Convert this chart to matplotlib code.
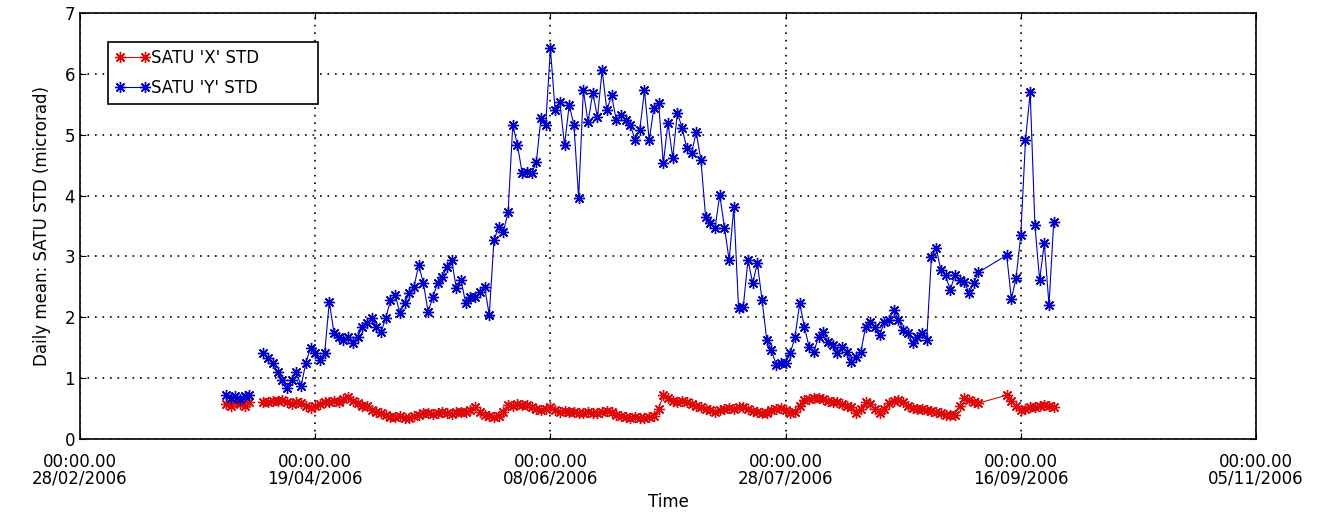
import numpy as np
import matplotlib
matplotlib.use('Agg')
import matplotlib.pyplot as plt
import matplotlib.dates as mdates

start = np.datetime64('2006-02-28')

# first short run (31/03 - 05/04), then a gap
days_a = list(range(31, 37))
x_a = [0.58, 0.55, 0.60, 0.57, 0.55, 0.60]
y_a = [0.72, 0.68, 0.70, 0.66, 0.70, 0.73]

# main run, daily
days_b = list(range(39, 192))
y_b = [1.41, 1.33, 1.25, 1.10, 0.97, 0.84, 0.97, 1.10, 0.87, 1.25,
       1.50, 1.41, 1.30, 1.41, 2.25, 1.74, 1.68, 1.63, 1.68, 1.58,
       1.68, 1.84, 1.90, 1.99, 1.84, 1.76, 1.99, 2.28, 2.37, 2.07,
       2.23, 2.40, 2.50, 2.86, 2.56, 2.09, 2.33, 2.56, 2.66, 2.83,
       2.94, 2.48, 2.61, 2.23, 2.33, 2.33, 2.42, 2.50, 2.04, 3.27,
       3.48, 3.40, 3.73, 5.16, 4.83, 4.37, 4.39, 4.37, 4.55, 5.27,
       5.16, 6.42, 5.40, 5.54, 4.83, 5.49, 5.16, 3.96, 5.73, 5.21,
       5.69, 5.29, 6.06, 5.40, 5.65, 5.24, 5.32, 5.24, 5.16, 4.91,
       5.08, 5.73, 4.91, 5.44, 5.52, 4.53, 5.19, 4.62, 5.36, 5.11,
       4.78, 4.70, 5.04, 4.58, 3.65, 3.55, 3.47, 4.01, 3.47, 2.94,
       3.81, 2.15, 2.17, 2.94, 2.56, 2.89, 2.28, 1.63, 1.46, 1.22,
       1.25, 1.25, 1.41, 1.68, 2.23, 1.84, 1.51, 1.43, 1.68, 1.76,
       1.60, 1.54, 1.41, 1.51, 1.43, 1.27, 1.35, 1.43, 1.84, 1.92,
       1.84, 1.71, 1.92, 1.96, 2.12, 1.96, 1.79, 1.74, 1.58, 1.68,
       1.74, 1.63, 2.99, 3.14, 2.78, 2.69, 2.45, 2.69, 2.61, 2.58,
       2.40, 2.56, 2.74]
x_b = [0.60, 0.61, 0.62, 0.63, 0.64, 0.60, 0.58, 0.60, 0.59, 0.55,
       0.51, 0.55, 0.58, 0.61, 0.60, 0.62, 0.60, 0.65, 0.69, 0.62,
       0.59, 0.55, 0.55, 0.48, 0.45, 0.43, 0.40, 0.36, 0.36, 0.37,
       0.34, 0.34, 0.37, 0.40, 0.42, 0.43, 0.41, 0.43, 0.44, 0.43,
       0.41, 0.44, 0.45, 0.45, 0.48, 0.53, 0.45, 0.39, 0.38, 0.36,
       0.37, 0.45, 0.56, 0.55, 0.57, 0.56, 0.56, 0.52, 0.50, 0.48,
       0.50, 0.52, 0.48, 0.45, 0.46, 0.45, 0.44, 0.42, 0.43, 0.45,
       0.43, 0.42, 0.45, 0.46, 0.44, 0.40, 0.38, 0.36, 0.35, 0.36,
       0.34, 0.35, 0.36, 0.38, 0.50, 0.72, 0.68, 0.62, 0.60, 0.62,
       0.60, 0.58, 0.55, 0.53, 0.50, 0.47, 0.45, 0.47, 0.50, 0.51,
       0.50, 0.52, 0.53, 0.50, 0.46, 0.44, 0.42, 0.43, 0.47, 0.50,
       0.51, 0.47, 0.43, 0.45, 0.55, 0.64, 0.66, 0.67, 0.67, 0.65,
       0.63, 0.61, 0.60, 0.58, 0.55, 0.53, 0.43, 0.50, 0.61, 0.58,
       0.50, 0.43, 0.50, 0.59, 0.62, 0.64, 0.60, 0.55, 0.51, 0.50,
       0.49, 0.48, 0.46, 0.45, 0.43, 0.40, 0.39, 0.40, 0.55, 0.67,
       0.64, 0.60, 0.59]

# last run after a few missing days (joined by the line)
days_c = list(range(197, 208))
y_c = [3.02, 2.30, 2.65, 3.35, 4.91, 5.70, 3.52, 2.61, 3.22, 2.20, 3.57]
x_c = [0.72, 0.62, 0.55, 0.48, 0.50, 0.52, 0.53, 0.55, 0.56, 0.54, 0.53]

days = days_a + [37] + days_b + days_c
satu_x = x_a + [np.nan] + x_b + x_c
satu_y = y_a + [np.nan] + y_b + y_c
dates = (start + np.array(days, dtype='timedelta64[D]')).astype('datetime64[ms]').astype(object)

tick_days = [0, 50, 100, 150, 200, 250]
tick_dates = (start + np.array(tick_days, dtype='timedelta64[D]')).astype('datetime64[ms]').astype(object)

fs = 12
fig = plt.figure(figsize=(13.25, 5.22), dpi=100)
ax = fig.add_axes([0.0604, 0.159, 0.8875, 0.816])

star = (8, 2, 0)
ax.plot(dates, satu_x, '-', marker=star, color='#dc0a0a', lw=0.8, ms=8, mew=1,
        label="SATU 'X' STD")
ax.plot(dates, satu_y, '-', marker=star, color='#0000c4', lw=0.8, ms=8, mew=1,
        label="SATU 'Y' STD")

ax.set_xlim(tick_dates[0], tick_dates[-1])
ax.set_ylim(0, 7)
ax.set_xticks(tick_dates)
ax.xaxis.set_major_formatter(mdates.DateFormatter('%H:%M.00\n%d/%m/%Y'))
ax.set_yticks(range(8))
ax.tick_params(direction='in', labelsize=fs, length=4, top=True, right=True)
ax.tick_params(axis='x', pad=10)
for lab in ax.get_xticklabels():
    lab.set_linespacing(0.9)
ax.grid(True, color='black', linestyle=(0, (1, 3.5)), lw=1.2)
for s in ax.spines.values():
    s.set_linewidth(1.2)

ax.set_xlabel('Time', fontsize=fs, labelpad=4)
ax.set_ylabel('Daily mean: SATU STD (microrad)', fontsize=fs, labelpad=10)

leg = ax.legend(loc='upper left', bbox_to_anchor=(0.0238, 0.792, 0.1786, 0.14),
                mode='expand', numpoints=2, fancybox=False, framealpha=1,
                edgecolor='black', fontsize=fs, handlelength=2.1,
                handletextpad=0.1, borderpad=0.4, labelspacing=0.75,
                borderaxespad=0)
leg.get_frame().set_linewidth(1.2)

fig.savefig('out.png', dpi=100)
